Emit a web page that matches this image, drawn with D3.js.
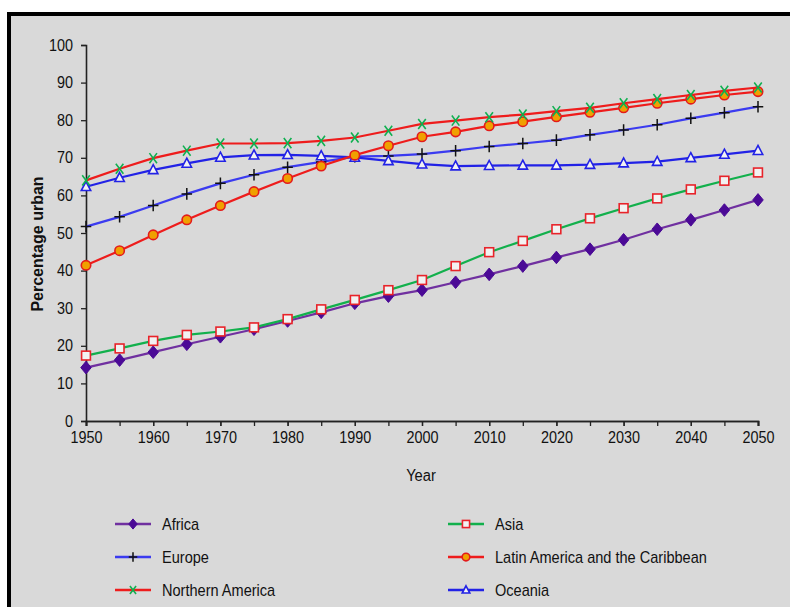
<!DOCTYPE html>
<html>
<head>
<meta charset="utf-8">
<script src="https://cdn.jsdelivr.net/npm/d3@7"></script>
<style>
  html, body { margin: 0; padding: 0; background: #ffffff; }
  svg { display: block; }
  text { font-family: Arial, "Liberation Sans", sans-serif; fill: #111; }
</style>
</head>
<body>
<svg id="chart" width="790" height="607"></svg>
<script>
const years = [1950,1955,1960,1965,1970,1975,1980,1985,1990,1995,2000,2005,2010,2015,2020,2025,2030,2035,2040,2045,2050];
const africa   = [14.2,16.2,18.3,20.4,22.4,24.4,26.6,28.9,31.3,33.2,34.8,36.9,39.0,41.2,43.5,45.7,48.2,51.0,53.5,56.1,58.8];
const asia     = [17.4,19.3,21.3,22.9,23.8,24.9,27.1,29.7,32.2,34.8,37.5,41.2,44.9,47.9,51.0,53.9,56.6,59.2,61.6,63.9,66.1];
const europe   = [51.7,54.3,57.3,60.4,63.2,65.5,67.5,68.9,70.3,70.5,71.0,71.9,73.0,73.8,74.7,76.1,77.4,78.8,80.5,82.0,83.6];
const latinAm  = [41.4,45.3,49.5,53.5,57.3,61.0,64.5,67.8,70.7,73.2,75.6,76.9,78.5,79.6,80.9,82.1,83.3,84.5,85.6,86.7,87.6];
const northAm  = [64.0,67.1,69.9,71.9,73.8,73.8,73.9,74.5,75.4,77.2,79.0,79.9,80.8,81.5,82.4,83.3,84.5,85.6,86.7,87.8,88.7];
const oceania  = [62.3,64.7,66.8,68.5,70.1,70.7,70.8,70.5,70.1,69.2,68.3,67.8,67.9,68.0,68.0,68.2,68.6,69.0,70.0,70.9,71.9];
const seriesNames = ["Africa","Asia","Europe","Latin America and the Caribbean","Northern America","Oceania"];
const yTicks = [0,10,20,30,40,50,60,70,80,90,100];
const xLabelTicks = [1950,1960,1970,1980,1990,2000,2010,2020,2030,2040,2050];
const xMinorTicks = years;
const yTitle = "Percentage urban";
const xTitle = "Year";

const styles = {
  "Africa": {line: "#7030a0", marker: "diamond", fill: "#4b0a96", stroke: "#4b0a96"},
  "Asia": {line: "#12b04c", marker: "square", fill: "#f2f2f2", stroke: "#e8232a"},
  "Europe": {line: "#3b3bf0", marker: "plus", fill: "none", stroke: "#111111"},
  "Latin America and the Caribbean": {line: "#ee1c1c", marker: "circle", fill: "#f0a000", stroke: "#e31b1b"},
  "Northern America": {line: "#ee1c1c", marker: "cross", fill: "none", stroke: "#10b050"},
  "Oceania": {line: "#2222e6", marker: "triangle", fill: "#f2f2f2", stroke: "#2222e6"}
};
const valuesByName = {
  "Africa": africa, "Asia": asia, "Europe": europe,
  "Latin America and the Caribbean": latinAm, "Northern America": northAm, "Oceania": oceania
};

const svg = d3.select("#chart");

// frame
svg.append("rect").attr("x", 9).attr("y", 14).attr("width", 800).attr("height", 620)
  .attr("fill", "#d9d9d9").attr("stroke", "#000").attr("stroke-width", 4);

const x = d3.scaleLinear().domain([1950, 2050]).range([86, 758]);
const y = d3.scaleLinear().domain([0, 100]).range([421, 45]);

const axisColor = "#222";
const sx = 0.9;
// y axis
const yAxis = svg.append("g").attr("transform", "translate(86,0)")
  .call(d3.axisLeft(y).tickValues(yTicks).tickSize(5).tickPadding(8).tickFormat(d3.format("d")));
// x axis minor ticks
const xAxisMinor = svg.append("g").attr("transform", "translate(0,421)")
  .call(d3.axisBottom(x).tickValues(xMinorTicks).tickSize(5).tickFormat(""));
const xAxis = svg.append("g").attr("transform", "translate(0,421)")
  .call(d3.axisBottom(x).tickValues(xLabelTicks).tickSize(5).tickPadding(6).tickFormat(d3.format("d")));
[yAxis, xAxisMinor, xAxis].forEach(g => {
  g.select(".domain").attr("stroke", axisColor).attr("stroke-width", 1.6);
  g.selectAll(".tick line").attr("stroke", axisColor).attr("stroke-width", 1.3);
  g.selectAll("text").attr("font-size", 16).attr("fill", "#111")
    .attr("font-family", "Arial, 'Liberation Sans', sans-serif");
});
// condense tick labels horizontally, keeping their anchor
xAxis.selectAll(".tick text").attr("transform", `scale(${sx},1)`);
yAxis.selectAll(".tick text").each(function() {
  const t = d3.select(this);
  const xv = +t.attr("x");
  t.attr("x", xv / sx).attr("transform", `scale(${sx},1)`);
});

// titles
svg.append("text").attr("transform", "translate(43,244) rotate(-90)")
  .attr("text-anchor", "middle").attr("font-size", 16).attr("font-weight", "bold").text(yTitle);
svg.append("text").attr("transform", "translate(421,481) scale(0.92,1)").attr("text-anchor", "middle")
  .attr("font-size", 16).text(xTitle);

function drawMarker(g, type, st, size) {
  const s = size;
  if (type === "diamond") {
    g.append("path").attr("d", `M0,${-s*0.6}L${s*0.5},0L0,${s*0.6}L${-s*0.5},0Z`)
      .attr("fill", st.fill).attr("stroke", st.stroke).attr("stroke-width", 1);
  } else if (type === "square") {
    g.append("rect").attr("x", -s*0.42).attr("y", -s*0.42).attr("width", s*0.84).attr("height", s*0.84)
      .attr("fill", st.fill).attr("stroke", st.stroke).attr("stroke-width", 1.6);
  } else if (type === "plus") {
    g.append("path").attr("d", `M${-s*0.5},0H${s*0.5}M0,${-s*0.55}V${s*0.55}`)
      .attr("stroke", st.stroke).attr("stroke-width", 1.5).attr("fill", "none");
  } else if (type === "circle") {
    g.append("circle").attr("r", s*0.45).attr("fill", st.fill).attr("stroke", st.stroke).attr("stroke-width", 1.6);
  } else if (type === "cross") {
    const w = s*0.36, h = s*0.48;
    g.append("path").attr("d", `M${-w},${-h}L${w},${h}M${w},${-h}L${-w},${h}`)
      .attr("stroke", st.stroke).attr("stroke-width", 1.6).attr("fill", "none");
  } else if (type === "triangle") {
    const h = s*0.45;
    g.append("path").attr("d", `M0,${-h*1.1}L${h},${h*0.8}L${-h},${h*0.8}Z`)
      .attr("fill", st.fill).attr("stroke", st.stroke).attr("stroke-width", 1.6);
  }
}

const line = d3.line().x(d => x(d[0])).y(d => y(d[1]));
const drawOrder = ["Africa","Asia","Europe","Oceania","Latin America and the Caribbean","Northern America"];
drawOrder.forEach(name => {
  const st = styles[name];
  const pts = years.map((yr, i) => [yr, valuesByName[name][i]]);
  svg.append("path").datum(pts).attr("d", line).attr("fill", "none")
    .attr("stroke", st.line).attr("stroke-width", 2.2);
  pts.forEach(p => {
    const g = svg.append("g").attr("transform", `translate(${x(p[0])},${y(p[1])})`);
    drawMarker(g, st.marker, st, 10.5);
  });
});

// legend
const legendCols = [115, 448];
const legendRows = [524, 557, 590];
seriesNames.forEach((name, i) => {
  const st = styles[name];
  const lx = legendCols[i % 2], ly = legendRows[Math.floor(i / 2)];
  const g = svg.append("g").attr("transform", `translate(${lx},${ly})`);
  g.append("line").attr("x1", 0).attr("x2", 36).attr("y1", 0).attr("y2", 0)
    .attr("stroke", st.line).attr("stroke-width", 2.4);
  const m = g.append("g").attr("transform", "translate(18,0)");
  drawMarker(m, st.marker, st, 8.5);
  g.append("text").attr("transform", "translate(47,0) scale(0.91,1)").attr("dy", "0.36em")
    .attr("font-size", 16).text(name);
});
</script>
</body>
</html>
